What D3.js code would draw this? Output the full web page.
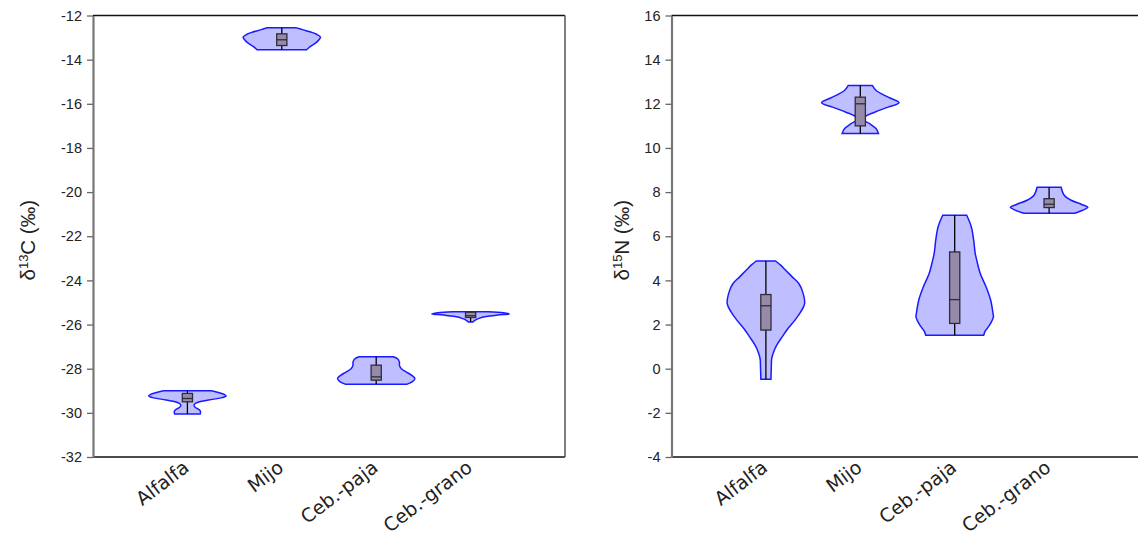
<!DOCTYPE html>
<html><head><meta charset="utf-8">
<script src="https://cdn.jsdelivr.net/npm/d3@7"></script>
<style>
html,body{margin:0;padding:0;background:#fff;}
svg{display:block;}
</style></head>
<body>
<svg id="chart" width="1138" height="537"></svg>
<script>
// ---------------- data ----------------
const categories = ["Alfalfa", "Mijo", "Ceb.-paja", "Ceb.-grano"];
const carbonTicks = [-12, -14, -16, -18, -20, -22, -24, -26, -28, -30, -32];
const nitrogenTicks = [16, 14, 12, 10, 8, 6, 4, 2, 0, -2, -4];

// violin outlines: [value, relative half-width]
const carbonAlfalfa = [[-29.0,0.62],[-29.08,0.8],[-29.16,0.95],[-29.23,1.0],[-29.31,0.9],[-29.39,0.65],[-29.47,0.38],[-29.56,0.22],[-29.65,0.17],[-29.75,0.2],[-29.85,0.3],[-29.95,0.34],[-30.05,0.33]];
const carbonMijo = [[-12.56,0.38],[-12.65,0.55],[-12.75,0.75],[-12.85,0.9],[-12.98,1.0],[-13.1,0.96],[-13.25,0.87],[-13.4,0.74],[-13.55,0.64]];
const carbonPaja = [[-27.46,0.44],[-27.55,0.55],[-27.7,0.6],[-27.85,0.6],[-28.0,0.65],[-28.15,0.78],[-28.3,0.92],[-28.45,1.0],[-28.6,0.93],[-28.7,0.8]];
const carbonGrano = [[-25.42,0.45],[-25.47,0.85],[-25.52,1.0],[-25.57,0.7],[-25.64,0.4],[-25.72,0.22],[-25.8,0.12],[-25.88,0.06]];

const nitrogenAlfalfa = [[4.88,0.25],[4.69,0.38],[4.46,0.51],[4.16,0.68],[3.86,0.85],[3.48,0.95],[2.95,1.0],[2.57,0.9],[2.2,0.75],[1.82,0.57],[1.44,0.42],[1.07,0.28],[0.76,0.2],[0.46,0.15],[0.09,0.14],[-0.48,0.13]];
const nitrogenMijo = [[12.83,0.31],[12.6,0.41],[12.3,0.72],[12.05,1.0],[11.85,0.72],[11.62,0.37],[11.4,0.11],[11.28,0.08],[11.1,0.24],[10.87,0.41],[10.65,0.47]];
const nitrogenPaja = [[6.95,0.31],[6.42,0.43],[5.82,0.49],[5.22,0.53],[4.91,0.57],[4.31,0.66],[3.71,0.81],[3.1,0.93],[2.5,0.99],[2.35,1.0],[1.97,0.9],[1.71,0.79],[1.52,0.75]];
const nitrogenGrano = [[8.22,0.31],[7.86,0.39],[7.63,0.57],[7.45,0.83],[7.31,1.0],[7.18,0.87],[7.04,0.65]];

// box plot statistics
const carbonMin = [-30.05, -13.55, -28.7, -25.88];
const carbonQ1 = [-29.5, -13.36, -28.52, -25.68];
const carbonMedian = [-29.35, -13.1, -28.37, -25.6];
const carbonQ3 = [-29.12, -12.83, -27.84, -25.44];
const carbonMax = [-29.0, -12.56, -27.46, -25.42];

const nitrogenMin = [-0.48, 10.65, 1.52, 7.04];
const nitrogenQ1 = [1.75, 11.0, 2.05, 7.3];
const nitrogenMedian = [2.85, 12.0, 3.13, 7.45];
const nitrogenQ3 = [3.36, 12.3, 5.29, 7.7];
const nitrogenMax = [4.88, 12.83, 6.95, 8.22];

// ---------------- drawing ----------------
const svg = d3.select("#chart");

function panel(opts) {
  const {x0, x1, y0, y1, domain, ticks, label, sup, labelOffset, violins, mins, q1s, meds, q3s, maxs, rightSpine} = opts;
  const g = svg.append("g");
  const x = d3.scaleLinear().domain([0, categories.length + 1]).range([x0, x1]);
  const y = d3.scaleLinear().domain(domain).range([y1, y0]);
  const step = x(1) - x(0);
  const hw = d3.scaleLinear().domain([0, 1]).range([0, 0.41 * step]);
  const boxW = 0.108 * step;

  // violins
  const area = d3.area()
    .y(d => y(d[0]))
    .curve(d3.curveCatmullRom.alpha(0.5));
  violins.forEach((v, i) => {
    const cx = x(i + 1);
    g.append("path")
      .datum(v)
      .attr("d", area.x0(d => cx - hw(d[1])).x1(d => cx + hw(d[1])))
      .attr("fill", "rgba(128,128,255,0.5)")
      .attr("stroke", "#1a1aff")
      .attr("stroke-width", 1.5);
  });

  // boxes
  categories.forEach((c, i) => {
    const cx = x(i + 1);
    g.append("line").attr("x1", cx).attr("x2", cx)
      .attr("y1", y(maxs[i])).attr("y2", y(mins[i]))
      .attr("stroke", "#000").attr("stroke-width", 1.3);
    g.append("rect")
      .attr("x", cx - boxW / 2).attr("width", boxW)
      .attr("y", y(q3s[i])).attr("height", y(q1s[i]) - y(q3s[i]))
      .attr("fill", "#978aa9").attr("stroke", "#2e2e3a").attr("stroke-width", 1.3);
    g.append("line").attr("x1", cx - boxW / 2).attr("x2", cx + boxW / 2)
      .attr("y1", y(meds[i])).attr("y2", y(meds[i]))
      .attr("stroke", "#2e2e3a").attr("stroke-width", 1.3);
  });

  // frame
  g.append("line").attr("x1", x0).attr("x2", x1).attr("y1", y0).attr("y2", y0)
    .attr("stroke", "#111").attr("stroke-width", 1.5);
  g.append("line").attr("x1", x0).attr("x2", x1).attr("y1", y1).attr("y2", y1)
    .attr("stroke", "#111").attr("stroke-width", 1.5);
  if (rightSpine) {
    g.append("line").attr("x1", x1).attr("x2", x1).attr("y1", y0).attr("y2", y1)
      .attr("stroke", "#555").attr("stroke-width", 1.5);
  }

  // y axis
  const ax = g.append("g").attr("transform", `translate(${x0},0)`)
    .call(d3.axisLeft(y).tickValues(ticks).tickFormat(d3.format("d")).tickSize(6).tickSizeOuter(0).tickPadding(5));
  ax.select(".domain").attr("stroke", "#777").attr("stroke-width", 2.2);
  ax.selectAll(".tick line").attr("stroke", "#666").attr("stroke-width", 1.3);
  ax.selectAll(".tick text").attr("font-family", "Liberation Sans, Arial, sans-serif")
    .attr("font-size", 14.5).attr("fill", "#222");
  ax.selectAll(".tick text").text(d => d < 0 ? "-" + Math.abs(d) : d);

  // x labels
  categories.forEach((c, i) => {
    const cx = x(i + 1);
    g.append("text")
      .attr("transform", `translate(${cx + 3},${y1 + 13}) rotate(-37)`)
      .attr("text-anchor", "end")
      .attr("font-family", "DejaVu Sans, sans-serif")
      .attr("font-size", 19)
      .attr("fill", "#222")
      .text(c);
  });

  // y label
  const t = g.append("text")
    .attr("transform", `translate(${x0 - labelOffset},${(y0 + y1) / 2 + 4}) rotate(-90)`)
    .attr("text-anchor", "middle")
    .attr("font-family", "Liberation Sans, Arial, sans-serif")
    .attr("font-size", 20.5)
    .attr("fill", "#222");
  t.append("tspan").text("δ");
  t.append("tspan").attr("font-size", 13).attr("dy", -7).text(sup);
  t.append("tspan").attr("dy", 7).text(label);
}

panel({
  x0: 93, x1: 565, y0: 15.5, y1: 457, domain: [-32, -12], ticks: carbonTicks,
  sup: "13", label: "C (‰)", labelOffset: 58,
  violins: [carbonAlfalfa, carbonMijo, carbonPaja, carbonGrano],
  mins: carbonMin, q1s: carbonQ1, meds: carbonMedian, q3s: carbonQ3, maxs: carbonMax,
  rightSpine: true
});
panel({
  x0: 671.5, x1: 1143.5, y0: 15.5, y1: 457, domain: [-4, 16], ticks: nitrogenTicks,
  sup: "15", label: "N (‰)", labelOffset: 43,
  violins: [nitrogenAlfalfa, nitrogenMijo, nitrogenPaja, nitrogenGrano],
  mins: nitrogenMin, q1s: nitrogenQ1, meds: nitrogenMedian, q3s: nitrogenQ3, maxs: nitrogenMax,
  rightSpine: false
});
</script>
</body></html>
